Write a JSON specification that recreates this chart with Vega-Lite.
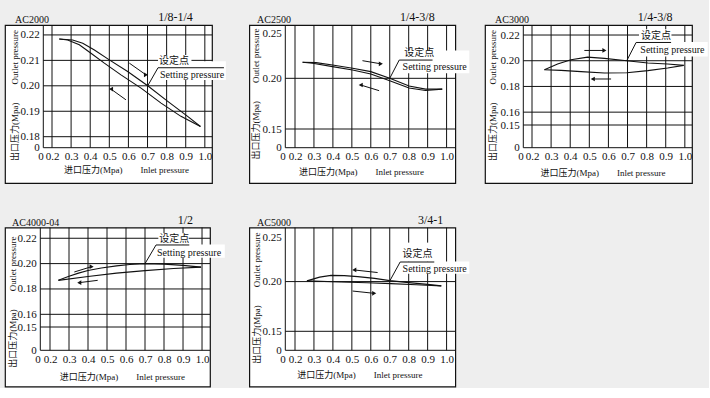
{
"$schema": "https://vega.github.io/schema/vega-lite/v6.json",
"background": "#eeeeee",
"padding": {"left": 4, "top": 9, "right": 0, "bottom": 0},
"spacing": 28.6,
"datasets": {
"gx": [{"v":0},{"v":0.2},{"v":0.3},{"v":0.4},{"v":0.5},{"v":0.6},{"v":0.7},{"v":0.8},{"v":0.9},{"v":1.0}],
"gy": [
{"p":1,"v":0},{"p":1,"v":0.18},{"p":1,"v":0.19},{"p":1,"v":0.2},{"p":1,"v":0.21},{"p":1,"v":0.22},
{"p":2,"v":0},{"p":2,"v":0.15},{"p":2,"v":0.2},
{"p":3,"v":0},{"p":3,"v":0.15},{"p":3,"v":0.16},{"p":3,"v":0.18},{"p":3,"v":0.2},{"p":3,"v":0.22},
{"p":4,"v":0},{"p":4,"v":0.15},{"p":4,"v":0.16},{"p":4,"v":0.18},{"p":4,"v":0.2},{"p":4,"v":0.22},
{"p":5,"v":0},{"p":5,"v":0.15},{"p":5,"v":0.2}],
"curves": [
{"p":1,"b":"up","x":0.238,"y":0.2184},{"p":1,"b":"up","x":0.308,"y":0.2180},{"p":1,"b":"up","x":0.361,"y":0.2167},{"p":1,"b":"up","x":0.422,"y":0.2141},{"p":1,"b":"up","x":0.500,"y":0.2102},{"p":1,"b":"up","x":0.596,"y":0.2056},{"p":1,"b":"up","x":0.701,"y":0.2000},{"p":1,"b":"up","x":0.806,"y":0.1939},{"p":1,"b":"up","x":0.910,"y":0.1880},{"p":1,"b":"up","x":0.977,"y":0.1840},
{"p":1,"b":"down","x":0.238,"y":0.2184},{"p":1,"b":"down","x":0.282,"y":0.2180},{"p":1,"b":"down","x":0.343,"y":0.2161},{"p":1,"b":"down","x":0.404,"y":0.2128},{"p":1,"b":"down","x":0.474,"y":0.2089},{"p":1,"b":"down","x":0.561,"y":0.2043},{"p":1,"b":"down","x":0.666,"y":0.1991},{"p":1,"b":"down","x":0.771,"y":0.1932},{"p":1,"b":"down","x":0.875,"y":0.1880},{"p":1,"b":"down","x":0.977,"y":0.1840},
{"p":2,"b":"up","x":0.240,"y":0.2158},{"p":2,"b":"up","x":0.311,"y":0.2155},{"p":2,"b":"up","x":0.398,"y":0.2132},{"p":2,"b":"up","x":0.504,"y":0.2099},{"p":2,"b":"up","x":0.600,"y":0.2066},{"p":2,"b":"up","x":0.700,"y":0.2000},{"p":2,"b":"up","x":0.802,"y":0.1924},{"p":2,"b":"up","x":0.889,"y":0.1893},{"p":2,"b":"up","x":0.977,"y":0.1893},
{"p":2,"b":"down","x":0.240,"y":0.2158},{"p":2,"b":"down","x":0.293,"y":0.2148},{"p":2,"b":"down","x":0.398,"y":0.2115},{"p":2,"b":"down","x":0.504,"y":0.2082},{"p":2,"b":"down","x":0.600,"y":0.2043},{"p":2,"b":"down","x":0.700,"y":0.1977},{"p":2,"b":"down","x":0.802,"y":0.1905},{"p":2,"b":"down","x":0.889,"y":0.1880},{"p":2,"b":"down","x":0.977,"y":0.1893},
{"p":3,"b":"up","x":0.265,"y":0.1930},{"p":3,"b":"up","x":0.334,"y":0.1974},{"p":3,"b":"up","x":0.404,"y":0.2008},{"p":3,"b":"up","x":0.491,"y":0.2028},{"p":3,"b":"up","x":0.579,"y":0.2018},{"p":3,"b":"up","x":0.696,"y":0.2000},{"p":3,"b":"up","x":0.806,"y":0.1982},{"p":3,"b":"up","x":0.910,"y":0.1974},{"p":3,"b":"up","x":0.994,"y":0.1964},
{"p":3,"b":"down","x":0.265,"y":0.1930},{"p":3,"b":"down","x":0.352,"y":0.1925},{"p":3,"b":"down","x":0.457,"y":0.1915},{"p":3,"b":"down","x":0.579,"y":0.1905},{"p":3,"b":"down","x":0.696,"y":0.1907},{"p":3,"b":"down","x":0.806,"y":0.1923},{"p":3,"b":"down","x":0.910,"y":0.1943},{"p":3,"b":"down","x":0.994,"y":0.1964},
{"p":4,"b":"up","x":0.244,"y":0.1868},{"p":4,"b":"up","x":0.30,"y":0.1900},{"p":4,"b":"up","x":0.35,"y":0.1925},{"p":4,"b":"up","x":0.40,"y":0.1945},{"p":4,"b":"up","x":0.47,"y":0.1966},{"p":4,"b":"up","x":0.55,"y":0.1982},{"p":4,"b":"up","x":0.62,"y":0.1993},{"p":4,"b":"up","x":0.70,"y":0.2000},{"p":4,"b":"up","x":0.80,"y":0.1996},{"p":4,"b":"up","x":0.90,"y":0.1986},{"p":4,"b":"up","x":0.995,"y":0.1972},
{"p":4,"b":"down","x":0.244,"y":0.1868},{"p":4,"b":"down","x":0.40,"y":0.1898},{"p":4,"b":"down","x":0.55,"y":0.1925},{"p":4,"b":"down","x":0.70,"y":0.1945},{"p":4,"b":"down","x":0.85,"y":0.1962},{"p":4,"b":"down","x":0.995,"y":0.1972},
{"p":5,"b":"down","x":0.263,"y":0.2007},{"p":5,"b":"down","x":0.33,"y":0.2045},{"p":5,"b":"down","x":0.39,"y":0.2062},{"p":5,"b":"down","x":0.46,"y":0.2060},{"p":5,"b":"down","x":0.531,"y":0.2050},{"p":5,"b":"down","x":0.62,"y":0.2032},{"p":5,"b":"down","x":0.70,"y":0.2010},{"p":5,"b":"down","x":0.80,"y":0.1990},{"p":5,"b":"down","x":0.90,"y":0.1972},{"p":5,"b":"down","x":0.972,"y":0.1957},
{"p":5,"b":"up","x":0.263,"y":0.2007},{"p":5,"b":"up","x":0.443,"y":0.1996},{"p":5,"b":"up","x":0.58,"y":0.1989},{"p":5,"b":"up","x":0.706,"y":0.1980},{"p":5,"b":"up","x":0.84,"y":0.1968},{"p":5,"b":"up","x":0.972,"y":0.1957}
],
"arrows": [
{"p":1,"d":"rising","x":0.605,"y":0.2089,"x2":0.692,"y2":0.2043},{"p":1,"d":"falling","x":0.587,"y":0.1945,"x2":0.509,"y2":0.1987},
{"p":2,"d":"rising","x":0.556,"y":0.2174,"x2":0.653,"y2":0.2143},{"p":2,"d":"falling","x":0.644,"y":0.1878,"x2":0.547,"y2":0.1934},
{"p":3,"d":"rising","x":0.474,"y":0.2080,"x2":0.579,"y2":0.2080},{"p":3,"d":"falling","x":0.614,"y":0.1858,"x2":0.518,"y2":0.1858},
{"p":4,"d":"rising","x":0.328,"y":0.1934,"x2":0.419,"y2":0.1976},{"p":4,"d":"falling","x":0.451,"y":0.1868,"x2":0.354,"y2":0.1850},
{"p":5,"d":"falling","x":0.636,"y":0.2091,"x2":0.513,"y2":0.2117},{"p":5,"d":"rising","x":0.504,"y":0.1905,"x2":0.618,"y2":0.1882}
],
"boxes": [
{"p":1,"x":0.755,"x2":0.93,"y":0.2078,"y2":0.2121},{"p":1,"x":0.755,"x2":1.11,"y":0.2023,"y2":0.2097},
{"p":2,"x":0.75,"x2":1.12,"y":0.218,"y2":0.2275},{"p":2,"x":0.75,"x2":1.12,"y":0.205,"y2":0.218},
{"p":3,"x":0.76,"x2":0.93,"y":0.2145,"y2":0.2245},{"p":3,"x":0.745,"x2":1.12,"y":0.2033,"y2":0.2145},
{"p":4,"x":0.77,"x2":0.93,"y":0.2150,"y2":0.2240},{"p":4,"x":0.758,"x2":1.12,"y":0.2047,"y2":0.2150},
{"p":5,"x":0.77,"x2":0.93,"y":0.2201,"y2":0.2392},{"p":5,"x":0.755,"x2":1.12,"y":0.2080,"y2":0.2201}
],
"leaders": [
{"p":1,"x":0.701,"y":0.2000,"x2":0.755,"y2":0.2071},{"p":1,"x":0.755,"y":0.2071,"x2":1.10,"y2":0.2071},
{"p":2,"x":0.700,"y":0.2000,"x2":0.750,"y2":0.2180},{"p":2,"x":0.750,"y":0.2180,"x2":0.926,"y2":0.2180},
{"p":3,"x":0.696,"y":0.2000,"x2":0.745,"y2":0.2142},{"p":3,"x":0.745,"y":0.2142,"x2":0.928,"y2":0.2142},
{"p":4,"x":0.700,"y":0.2000,"x2":0.758,"y2":0.2147},{"p":4,"x":0.758,"y":0.2147,"x2":0.933,"y2":0.2147},
{"p":5,"x":0.700,"y":0.2006,"x2":0.755,"y2":0.2197},{"p":5,"x":0.755,"y":0.2197,"x2":0.935,"y2":0.2197}
],
"notes": [
{"p":1,"t":"设定点","x":0.760,"y":0.2099},{"p":1,"t":"Setting pressure","x":0.765,"y":0.2043},
{"p":2,"t":"设定点","x":0.776,"y":0.2247},{"p":2,"t":"Setting pressure","x":0.768,"y":0.2114},
{"p":3,"t":"设定点","x":0.771,"y":0.2196},{"p":3,"t":"Setting pressure","x":0.767,"y":0.2080},
{"p":4,"t":"设定点","x":0.775,"y":0.2194},{"p":4,"t":"Setting pressure","x":0.763,"y":0.2087},
{"p":5,"t":"设定点","x":0.768,"y":0.2275},{"p":5,"t":"Setting pressure","x":0.768,"y":0.2131}
]
},
"vconcat": [
{"hconcat": [
{"width":207,"height":158,
 "title":{"text":"AC2000","dx":10},
 "resolve":{"axis":{"x":"independent","y":"independent"}},
 "layer":[
  {"data":{"name":"gx"},"mark":{"type":"rule","color":"#111","strokeWidth":1},
   "encoding":{"x":{"field":"v","type":"quantitative","axis":{"orient":"top","title":"1/8-1/4","labels":false,"titleX":170,"titleY":-8.5,"titleFontSize":12,"titleBaseline":"middle","titleAlign":"center"}},"y":{"datum":0,"axis":null},"y2":{"datum":0.2239}}},
  {"data":{"name":"gy"},"transform":[{"filter":"datum.p==1"}],"mark":{"type":"rule","color":"#111","strokeWidth":1},
   "encoding":{"y":{"field":"v","type":"quantitative","scale":{"domain":[-1,0,0.18,0.2239],"range":[158,122.7,111.7,0],"nice":false,"zero":false},
     "axis":{"orient":"left","offset":-38.3,"values":[0,0.18,0.19,0.2,0.21,0.22],"labelExpr":"datum.value == 0 ? '0' : format(datum.value, '.2f')","labelPadding":4,"labelOverlap":false,"labelFlush":false,"title":"出口压力(Mpa)\u3000\u3000Outlet pressure","titleX":-29.3,"titleY":70,"titleFontSize":9,"titleAngle":-90,"titleBaseline":"middle","titleAlign":"center"}},
    "x":{"datum":0,"axis":null},"x2":{"datum":1.0375}}},
  {"data":{"name":"curves"},"transform":[{"filter":"datum.p==1"}],"mark":{"type":"line","color":"#111","strokeWidth":1.1},
   "encoding":{
    "x":{"field":"x","type":"quantitative","scale":{"domain":[-1,0,0.2,1.0375],"range":[0,38.3,47,207],"nice":false,"zero":false},
     "axis":{"orient":"bottom","offset":-35.3,"values":[0,0.2,0.3,0.4,0.5,0.6,0.7,0.8,0.9,1.0],"labelExpr":"datum.value == 0 ? '0' : format(datum.value, '.1f')","labelAlign":{"condition":{"test":"datum.value == 0","value":"right"},"value":"center"},"labelPadding":3,"labelOverlap":false,"labelFlush":false,"title":"进口压力(Mpa)\u3000\u3000Inlet pressure","titleX":121,"titleY":22,"titleFontSize":9,"titleBaseline":"middle","titleAlign":"center"}},
    "y":{"field":"y","type":"quantitative","axis":null},
    "detail":{"field":"b"}}},
  {"data":{"name":"arrows"},"transform":[{"filter":"datum.p==1"}],"mark":{"type":"rule","color":"#111","strokeWidth":1},
   "encoding":{"x":{"field":"x","type":"quantitative","axis":null},"y":{"field":"y","type":"quantitative","axis":null},"x2":{"field":"x2"},"y2":{"field":"y2"}}},
  {"data":{"name":"arrows"},"transform":[{"filter":"datum.p==1"}],"mark":{"type":"point","filled":true,"color":"#111","size":22,"opacity":1},
   "encoding":{"x":{"field":"x2","type":"quantitative","axis":null},"y":{"field":"y2","type":"quantitative","axis":null},"shape":{"field":"d","type":"nominal","scale":{"domain":["rising","falling"],"range":["triangle-right","triangle-left"]},"legend":null}}},
  {"data":{"name":"boxes"},"transform":[{"filter":"datum.p==1"}],"mark":{"type":"rect","fill":"white","strokeWidth":0},
   "encoding":{"x":{"field":"x","type":"quantitative","axis":null},"x2":{"field":"x2"},"y":{"field":"y","type":"quantitative","axis":null},"y2":{"field":"y2"}}},
  {"data":{"name":"leaders"},"transform":[{"filter":"datum.p==1"}],"mark":{"type":"rule","color":"#111","strokeWidth":1},
   "encoding":{"x":{"field":"x","type":"quantitative","axis":null},"y":{"field":"y","type":"quantitative","axis":null},"x2":{"field":"x2"},"y2":{"field":"y2"}}},
  {"data":{"name":"notes"},"transform":[{"filter":"datum.p==1"}],"mark":{"type":"text","align":"left","baseline":"middle","fontSize":10,"color":"#111","font":"Liberation Serif, Noto Sans CJK SC"},
   "encoding":{"x":{"field":"x","type":"quantitative","axis":null},"y":{"field":"y","type":"quantitative","axis":null},"text":{"field":"t"}}}
 ]},
{"hconcat": [
{"width":206,"height":158,
 "title":{"text":"AC2500","dx":7.7},
 "resolve":{"axis":{"x":"independent","y":"independent"}},
 "layer":[
  {"data":{"name":"gx"},"mark":{"type":"rule","color":"#111","strokeWidth":1},
   "encoding":{"x":{"field":"v","type":"quantitative","axis":{"orient":"top","title":"1/4-3/8","labels":false,"titleX":167.5,"titleY":-8.3,"titleFontSize":12,"titleBaseline":"middle","titleAlign":"center"}},"y":{"datum":0,"axis":null},"y2":{"datum":0.2526}}},
  {"data":{"name":"gy"},"transform":[{"filter":"datum.p==2"}],"mark":{"type":"rule","color":"#111","strokeWidth":1},
   "encoding":{"y":{"field":"v","type":"quantitative","scale":{"domain":[-1,0,0.15,0.2526],"range":[158,122.7,104,0],"nice":false,"zero":false},
     "axis":{"orient":"left","offset":-36,"values":[0,0.15,0.2,0.25],"labelExpr":"datum.value == 0 ? '0' : format(datum.value, '.2f')","labelBaseline":{"condition":{"test":"datum.value == 0.25","value":"top"},"value":"middle"},"labelPadding":4,"labelOverlap":false,"labelFlush":false,"title":"出口压力(Mpa)\u3000\u3000Outlet pressure","titleX":-30.3,"titleY":68.5,"titleFontSize":9,"titleAngle":-90,"titleBaseline":"middle","titleAlign":"center"}},
    "x":{"datum":0,"axis":null},"x2":{"datum":1.046}}},
  {"data":{"name":"curves"},"transform":[{"filter":"datum.p==2"}],"mark":{"type":"line","color":"#111","strokeWidth":1.1},
   "encoding":{
    "x":{"field":"x","type":"quantitative","scale":{"domain":[-1,0,0.2,1.046],"range":[0,36,45.7,206],"nice":false,"zero":false},
     "axis":{"orient":"bottom","offset":-35.3,"values":[0,0.2,0.3,0.4,0.5,0.6,0.7,0.8,0.9,1.0],"labelExpr":"datum.value == 0 ? '0' : format(datum.value, '.1f')","labelAlign":{"condition":{"test":"datum.value == 0","value":"right"},"value":"center"},"labelPadding":3,"labelOverlap":false,"labelFlush":false,"title":"进口压力(Mpa)\u3000\u3000Inlet pressure","titleX":111.7,"titleY":24,"titleFontSize":9,"titleBaseline":"middle","titleAlign":"center"}},
    "y":{"field":"y","type":"quantitative","axis":null},
    "detail":{"field":"b"}}},
  {"data":{"name":"arrows"},"transform":[{"filter":"datum.p==2"}],"mark":{"type":"rule","color":"#111","strokeWidth":1},
   "encoding":{"x":{"field":"x","type":"quantitative","axis":null},"y":{"field":"y","type":"quantitative","axis":null},"x2":{"field":"x2"},"y2":{"field":"y2"}}},
  {"data":{"name":"arrows"},"transform":[{"filter":"datum.p==2"}],"mark":{"type":"point","filled":true,"color":"#111","size":22,"opacity":1},
   "encoding":{"x":{"field":"x2","type":"quantitative","axis":null},"y":{"field":"y2","type":"quantitative","axis":null},"shape":{"field":"d","type":"nominal","scale":{"domain":["rising","falling"],"range":["triangle-right","triangle-left"]},"legend":null}}},
  {"data":{"name":"boxes"},"transform":[{"filter":"datum.p==2"}],"mark":{"type":"rect","fill":"white","strokeWidth":0},
   "encoding":{"x":{"field":"x","type":"quantitative","axis":null},"x2":{"field":"x2"},"y":{"field":"y","type":"quantitative","axis":null},"y2":{"field":"y2"}}},
  {"data":{"name":"leaders"},"transform":[{"filter":"datum.p==2"}],"mark":{"type":"rule","color":"#111","strokeWidth":1},
   "encoding":{"x":{"field":"x","type":"quantitative","axis":null},"y":{"field":"y","type":"quantitative","axis":null},"x2":{"field":"x2"},"y2":{"field":"y2"}}},
  {"data":{"name":"notes"},"transform":[{"filter":"datum.p==2"}],"mark":{"type":"text","align":"left","baseline":"middle","fontSize":10,"color":"#111","font":"Liberation Serif, Noto Sans CJK SC"},
   "encoding":{"x":{"field":"x","type":"quantitative","axis":null},"y":{"field":"y","type":"quantitative","axis":null},"text":{"field":"t"}}}
 ]},
{"width":207,"height":158,
 "title":{"text":"AC3000","dx":10},
 "resolve":{"axis":{"x":"independent","y":"independent"}},
 "layer":[
  {"data":{"name":"gx"},"mark":{"type":"rule","color":"#111","strokeWidth":1},
   "encoding":{"x":{"field":"v","type":"quantitative","axis":{"orient":"top","title":"1/4-3/8","labels":false,"titleX":169.7,"titleY":-8.3,"titleFontSize":12,"titleBaseline":"middle","titleAlign":"center"}},"y":{"datum":0,"axis":null},"y2":{"datum":0.2278}}},
  {"data":{"name":"gy"},"transform":[{"filter":"datum.p==3"}],"mark":{"type":"rule","color":"#111","strokeWidth":1},
   "encoding":{"y":{"field":"v","type":"quantitative","scale":{"domain":[-1,0,0.15,0.2278],"range":[158,122.7,100,0],"nice":false,"zero":false},
     "axis":{"orient":"left","offset":-38.3,"values":[0,0.15,0.16,0.18,0.2,0.22],"labelExpr":"datum.value == 0 ? '0' : format(datum.value, '.2f')","labelPadding":4,"labelOverlap":false,"labelFlush":false,"title":"出口压力(Mpa)\u3000\u3000Outlet pressure","titleX":-30.8,"titleY":70,"titleFontSize":9,"titleAngle":-90,"titleBaseline":"middle","titleAlign":"center"}},
    "x":{"datum":0,"axis":null},"x2":{"datum":1.0375}}},
  {"data":{"name":"curves"},"transform":[{"filter":"datum.p==3"}],"mark":{"type":"line","color":"#111","strokeWidth":1.1},
   "encoding":{
    "x":{"field":"x","type":"quantitative","scale":{"domain":[-1,0,0.2,1.0375],"range":[0,38.3,47,207],"nice":false,"zero":false},
     "axis":{"orient":"bottom","offset":-35.3,"values":[0,0.2,0.3,0.4,0.5,0.6,0.7,0.8,0.9,1.0],"labelExpr":"datum.value == 0 ? '0' : format(datum.value, '.1f')","labelAlign":{"condition":{"test":"datum.value == 0","value":"right"},"value":"center"},"labelPadding":3,"labelOverlap":false,"labelFlush":false,"title":"进口压力(Mpa)\u3000\u3000Inlet pressure","titleX":117.5,"titleY":25,"titleFontSize":9,"titleBaseline":"middle","titleAlign":"center"}},
    "y":{"field":"y","type":"quantitative","axis":null},
    "detail":{"field":"b"}}},
  {"data":{"name":"arrows"},"transform":[{"filter":"datum.p==3"}],"mark":{"type":"rule","color":"#111","strokeWidth":1},
   "encoding":{"x":{"field":"x","type":"quantitative","axis":null},"y":{"field":"y","type":"quantitative","axis":null},"x2":{"field":"x2"},"y2":{"field":"y2"}}},
  {"data":{"name":"arrows"},"transform":[{"filter":"datum.p==3"}],"mark":{"type":"point","filled":true,"color":"#111","size":22,"opacity":1},
   "encoding":{"x":{"field":"x2","type":"quantitative","axis":null},"y":{"field":"y2","type":"quantitative","axis":null},"shape":{"field":"d","type":"nominal","scale":{"domain":["rising","falling"],"range":["triangle-right","triangle-left"]},"legend":null}}},
  {"data":{"name":"boxes"},"transform":[{"filter":"datum.p==3"}],"mark":{"type":"rect","fill":"white","strokeWidth":0},
   "encoding":{"x":{"field":"x","type":"quantitative","axis":null},"x2":{"field":"x2"},"y":{"field":"y","type":"quantitative","axis":null},"y2":{"field":"y2"}}},
  {"data":{"name":"leaders"},"transform":[{"filter":"datum.p==3"}],"mark":{"type":"rule","color":"#111","strokeWidth":1},
   "encoding":{"x":{"field":"x","type":"quantitative","axis":null},"y":{"field":"y","type":"quantitative","axis":null},"x2":{"field":"x2"},"y2":{"field":"y2"}}},
  {"data":{"name":"notes"},"transform":[{"filter":"datum.p==3"}],"mark":{"type":"text","align":"left","baseline":"middle","fontSize":10,"color":"#111","font":"Liberation Serif, Noto Sans CJK SC"},
   "encoding":{"x":{"field":"x","type":"quantitative","axis":null},"y":{"field":"y","type":"quantitative","axis":null},"text":{"field":"t"}}}
 ]}
], "spacing": 29.7, "bounds": "flush", "align": "none"}
], "spacing": 37.3, "bounds": "flush", "align": "none"},
{"hconcat": [
{"width":205,"height":159,
 "title":{"text":"AC4000-04","dx":7},
 "resolve":{"axis":{"x":"independent","y":"independent"}},
 "layer":[
  {"data":{"name":"gx"},"mark":{"type":"rule","color":"#111","strokeWidth":1},
   "encoding":{"x":{"field":"v","type":"quantitative","axis":{"orient":"top","title":"1/2","labels":false,"titleX":179.8,"titleY":-8.3,"titleFontSize":12,"titleBaseline":"middle","titleAlign":"center"}},"y":{"datum":0,"axis":null},"y2":{"datum":0.2284}}},
  {"data":{"name":"gy"},"transform":[{"filter":"datum.p==4"}],"mark":{"type":"rule","color":"#111","strokeWidth":1},
   "encoding":{"y":{"field":"v","type":"quantitative","scale":{"domain":[-1,0,0.15,0.2284],"range":[159,122.7,99.4,0],"nice":false,"zero":false},
     "axis":{"orient":"left","offset":-35.3,"values":[0,0.15,0.16,0.18,0.2,0.22],"labelExpr":"datum.value == 0 ? '0' : format(datum.value, '.2f')","labelPadding":4,"labelOverlap":false,"labelFlush":false,"title":"出口压力(Mpa)\u3000\u3000Outlet pressure","titleX":-28.3,"titleY":74,"titleFontSize":9,"titleAngle":-90,"titleBaseline":"middle","titleAlign":"center"}},
    "x":{"datum":0,"axis":null},"x2":{"datum":1.042}}},
  {"data":{"name":"curves"},"transform":[{"filter":"datum.p==4"}],"mark":{"type":"line","color":"#111","strokeWidth":1.1},
   "encoding":{
    "x":{"field":"x","type":"quantitative","scale":{"domain":[-1,0,0.2,1.042],"range":[0,35.3,45,205],"nice":false,"zero":false},
     "axis":{"orient":"bottom","offset":-36.3,"values":[0,0.2,0.3,0.4,0.5,0.6,0.7,0.8,0.9,1.0],"labelExpr":"datum.value == 0 ? '0' : format(datum.value, '.1f')","labelAlign":{"condition":{"test":"datum.value == 0","value":"right"},"value":"center"},"labelPadding":3,"labelOverlap":false,"labelFlush":false,"title":"进口压力(Mpa)\u3000\u3000Inlet pressure","titleX":116.8,"titleY":25.7,"titleFontSize":9,"titleBaseline":"middle","titleAlign":"center"}},
    "y":{"field":"y","type":"quantitative","axis":null},
    "detail":{"field":"b"}}},
  {"data":{"name":"arrows"},"transform":[{"filter":"datum.p==4"}],"mark":{"type":"rule","color":"#111","strokeWidth":1},
   "encoding":{"x":{"field":"x","type":"quantitative","axis":null},"y":{"field":"y","type":"quantitative","axis":null},"x2":{"field":"x2"},"y2":{"field":"y2"}}},
  {"data":{"name":"arrows"},"transform":[{"filter":"datum.p==4"}],"mark":{"type":"point","filled":true,"color":"#111","size":22,"opacity":1},
   "encoding":{"x":{"field":"x2","type":"quantitative","axis":null},"y":{"field":"y2","type":"quantitative","axis":null},"shape":{"field":"d","type":"nominal","scale":{"domain":["rising","falling"],"range":["triangle-right","triangle-left"]},"legend":null}}},
  {"data":{"name":"boxes"},"transform":[{"filter":"datum.p==4"}],"mark":{"type":"rect","fill":"white","strokeWidth":0},
   "encoding":{"x":{"field":"x","type":"quantitative","axis":null},"x2":{"field":"x2"},"y":{"field":"y","type":"quantitative","axis":null},"y2":{"field":"y2"}}},
  {"data":{"name":"leaders"},"transform":[{"filter":"datum.p==4"}],"mark":{"type":"rule","color":"#111","strokeWidth":1},
   "encoding":{"x":{"field":"x","type":"quantitative","axis":null},"y":{"field":"y","type":"quantitative","axis":null},"x2":{"field":"x2"},"y2":{"field":"y2"}}},
  {"data":{"name":"notes"},"transform":[{"filter":"datum.p==4"}],"mark":{"type":"text","align":"left","baseline":"middle","fontSize":10,"color":"#111","font":"Liberation Serif, Noto Sans CJK SC"},
   "encoding":{"x":{"field":"x","type":"quantitative","axis":null},"y":{"field":"y","type":"quantitative","axis":null},"text":{"field":"t"}}}
 ]},
{"width":206,"height":159,
 "title":{"text":"AC5000","dx":7.7},
 "resolve":{"axis":{"x":"independent","y":"independent"}},
 "layer":[
  {"data":{"name":"gx"},"mark":{"type":"rule","color":"#111","strokeWidth":1},
   "encoding":{"x":{"field":"v","type":"quantitative","axis":{"orient":"top","title":"3/4-1","labels":false,"titleX":180.9,"titleY":-8.3,"titleFontSize":12,"titleBaseline":"middle","titleAlign":"center"}},"y":{"datum":0,"axis":null},"y2":{"datum":0.2543}}},
  {"data":{"name":"gy"},"transform":[{"filter":"datum.p==5"}],"mark":{"type":"rule","color":"#111","strokeWidth":1},
   "encoding":{"y":{"field":"v","type":"quantitative","scale":{"domain":[-1,0,0.15,0.2543],"range":[159,122.7,103.7,0],"nice":false,"zero":false},
     "axis":{"orient":"left","offset":-36,"values":[0,0.15,0.2,0.25],"labelExpr":"datum.value == 0 ? '0' : format(datum.value, '.2f')","labelBaseline":{"condition":{"test":"datum.value == 0.25","value":"top"},"value":"middle"},"labelPadding":4,"labelOverlap":false,"labelFlush":false,"title":"出口压力(Mpa)\u3000\u3000Outlet pressure","titleX":-29.3,"titleY":70,"titleFontSize":9,"titleAngle":-90,"titleBaseline":"middle","titleAlign":"center"}},
    "x":{"datum":0,"axis":null},"x2":{"datum":1.046}}},
  {"data":{"name":"curves"},"transform":[{"filter":"datum.p==5"}],"mark":{"type":"line","color":"#111","strokeWidth":1.1},
   "encoding":{
    "x":{"field":"x","type":"quantitative","scale":{"domain":[-1,0,0.2,1.046],"range":[0,36,45.7,206],"nice":false,"zero":false},
     "axis":{"orient":"bottom","offset":-36.3,"values":[0,0.2,0.3,0.4,0.5,0.6,0.7,0.8,0.9,1.0],"labelExpr":"datum.value == 0 ? '0' : format(datum.value, '.1f')","labelAlign":{"condition":{"test":"datum.value == 0","value":"right"},"value":"center"},"labelPadding":3,"labelOverlap":false,"labelFlush":false,"title":"进口压力(Mpa)\u3000\u3000Inlet pressure","titleX":110,"titleY":24,"titleFontSize":9,"titleBaseline":"middle","titleAlign":"center"}},
    "y":{"field":"y","type":"quantitative","axis":null},
    "detail":{"field":"b"}}},
  {"data":{"name":"arrows"},"transform":[{"filter":"datum.p==5"}],"mark":{"type":"rule","color":"#111","strokeWidth":1},
   "encoding":{"x":{"field":"x","type":"quantitative","axis":null},"y":{"field":"y","type":"quantitative","axis":null},"x2":{"field":"x2"},"y2":{"field":"y2"}}},
  {"data":{"name":"arrows"},"transform":[{"filter":"datum.p==5"}],"mark":{"type":"point","filled":true,"color":"#111","size":22,"opacity":1},
   "encoding":{"x":{"field":"x2","type":"quantitative","axis":null},"y":{"field":"y2","type":"quantitative","axis":null},"shape":{"field":"d","type":"nominal","scale":{"domain":["rising","falling"],"range":["triangle-right","triangle-left"]},"legend":null}}},
  {"data":{"name":"boxes"},"transform":[{"filter":"datum.p==5"}],"mark":{"type":"rect","fill":"white","strokeWidth":0},
   "encoding":{"x":{"field":"x","type":"quantitative","axis":null},"x2":{"field":"x2"},"y":{"field":"y","type":"quantitative","axis":null},"y2":{"field":"y2"}}},
  {"data":{"name":"leaders"},"transform":[{"filter":"datum.p==5"}],"mark":{"type":"rule","color":"#111","strokeWidth":1},
   "encoding":{"x":{"field":"x","type":"quantitative","axis":null},"y":{"field":"y","type":"quantitative","axis":null},"x2":{"field":"x2"},"y2":{"field":"y2"}}},
  {"data":{"name":"notes"},"transform":[{"filter":"datum.p==5"}],"mark":{"type":"text","align":"left","baseline":"middle","fontSize":10,"color":"#111","font":"Liberation Serif, Noto Sans CJK SC"},
   "encoding":{"x":{"field":"x","type":"quantitative","axis":null},"y":{"field":"y","type":"quantitative","axis":null},"text":{"field":"t"}}}
 ]}
], "spacing": 39.3, "bounds": "flush", "align": "none"}
],
"config": {
 "font": "Liberation Serif",
 "view": {"stroke": "#111", "strokeWidth": 1.2, "fill": "white"},
 "axis": {"domain": false, "ticks": false, "grid": false, "labelFont": "Liberation Serif", "labelFontSize": 11, "labelColor": "#111", "titleFont": "Liberation Serif, Noto Sans CJK SC", "titleFontWeight": "normal", "titleColor": "#111"},
 "title": {"font": "Liberation Serif", "fontSize": 10, "fontWeight": "normal", "color": "#111", "anchor": "start", "frame": "group", "offset": -14.3}
}
}
